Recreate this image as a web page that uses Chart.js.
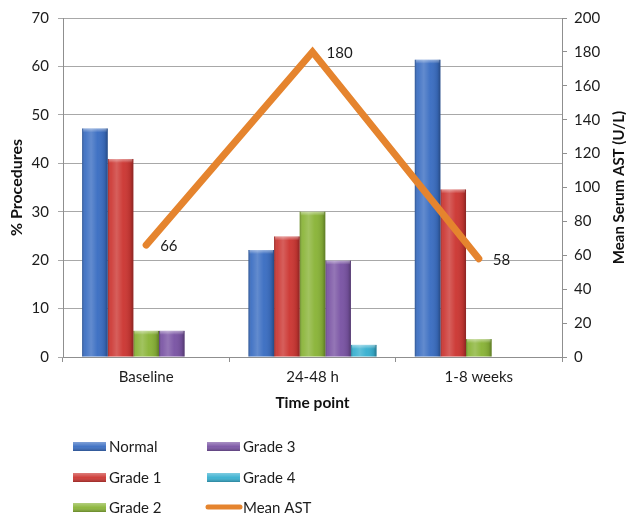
<!DOCTYPE html>
<html>
<head>
<meta charset="utf-8">
<script src="https://cdn.jsdelivr.net/npm/chart.js@4/dist/chart.umd.min.js"></script>
<style>
  html, body { margin: 0; padding: 0; background: #ffffff; }
  #wrap { width: 626px; height: 518px; position: relative; }
</style>
</head>
<body>
<div id="wrap"><canvas id="chart" width="626" height="518"></canvas></div>
<script>
// Categories and series (percent of procedures per grade, mean AST in U/L)
const timePoints = ['Baseline', '24-48 h', '1-8 weeks'];
const normal  = [47.2, 22.1, 61.4];
const grade1  = [40.9, 24.9, 34.6];
const grade2  = [5.4, 30.0, 3.7];
const grade3  = [5.4, 19.9, 0];
const grade4  = [0, 2.5, 0];
const meanAst = [66, 180, 58];

// Axis ranges
const pctMax = 70, pctStep = 10;
const astMax = 200, astStep = 20;
const astTitle = 'Mean Serum AST (U/L)';

const FONT = 'Lato, "Open Sans", "DejaVu Sans", sans-serif';
const TEXT = '#1c1c1c';
const GRID = '#a8a8a8';

// Soft 3D shading laid over each bar
function shadeBar(ctx, x, top, base, w) {
  const left = x - w / 2;
  const h = base - top;
  if (h < 1) return;
  const g = ctx.createLinearGradient(left, 0, left + w, 0);
  g.addColorStop(0, 'rgba(0,0,0,0.25)');
  g.addColorStop(0.12, 'rgba(255,255,255,0.06)');
  g.addColorStop(0.35, 'rgba(255,255,255,0.20)');
  g.addColorStop(0.6, 'rgba(255,255,255,0.03)');
  g.addColorStop(0.88, 'rgba(0,0,0,0.10)');
  g.addColorStop(1, 'rgba(0,0,0,0.32)');
  ctx.save();
  ctx.fillStyle = g;
  ctx.fillRect(left, top, w, h);
  // light bevel on the top cap
  const capH = Math.min(4, h);
  const cg = ctx.createLinearGradient(0, top, 0, top + capH);
  cg.addColorStop(0, 'rgba(255,255,255,0.45)');
  cg.addColorStop(1, 'rgba(255,255,255,0)');
  ctx.fillStyle = cg;
  ctx.fillRect(left + 1, top, w - 2, capH);
  ctx.restore();
}

const barShade = {
  id: 'barShade',
  afterDatasetDraw(chart, args) {
    const meta = args.meta;
    if (meta.type !== 'bar') return;
    const ctx = chart.ctx;
    meta.data.forEach(el => {
      const p = el.getProps(['x', 'y', 'base', 'width'], true);
      shadeBar(ctx, p.x, Math.min(p.y, p.base), Math.max(p.y, p.base), p.width);
    });
  }
};

// Value labels beside the line vertices
const lineLabels = {
  id: 'lineLabels',
  afterDatasetsDraw(chart) {
    const ctx = chart.ctx;
    chart.data.datasets.forEach((ds, di) => {
      if (ds.type !== 'line') return;
      const meta = chart.getDatasetMeta(di);
      ctx.save();
      ctx.font = '15px ' + FONT;
      ctx.fillStyle = TEXT;
      ctx.textAlign = 'left';
      ctx.textBaseline = 'middle';
      meta.data.forEach((pt, i) => {
        ctx.fillText(String(ds.data[i]), pt.x + 14, pt.y + 1);
      });
      ctx.restore();
    });
  }
};

// Right-axis title, reading bottom to top like the left one
const rightTitle = {
  id: 'rightTitle',
  afterDraw(chart) {
    const ctx = chart.ctx;
    const s = chart.scales.y1;
    ctx.save();
    ctx.translate(s.right - 7, (s.top + s.bottom) / 2);
    ctx.rotate(-Math.PI / 2);
    ctx.font = 'bold 15px ' + FONT;
    ctx.fillStyle = '#111';
    ctx.textAlign = 'center';
    ctx.textBaseline = 'middle';
    ctx.fillText(astTitle, 0, 0);
    ctx.restore();
  }
};

// Two-column legend under the plot
const gridLegend = {
  id: 'gridLegend',
  afterDraw(chart) {
    const ctx = chart.ctx;
    const colX = [73, 207];
    const rowY = [446, 477, 507];
    ctx.save();
    ctx.font = '15px ' + FONT;
    ctx.textBaseline = 'middle';
    ctx.textAlign = 'left';
    chart.data.datasets.forEach((ds, i) => {
      const col = Math.floor(i / 3), row = i % 3;
      const x = colX[col], y = rowY[row];
      if (ds.type === 'line') {
        ctx.strokeStyle = ds.borderColor;
        ctx.lineWidth = 5;
        ctx.lineCap = 'round';
        ctx.beginPath();
        ctx.moveTo(x + 1, y);
        ctx.lineTo(x + 33, y);
        ctx.stroke();
      } else {
        ctx.fillStyle = ds.backgroundColor;
        ctx.fillRect(x, y - 4, 33, 9);
        const g = ctx.createLinearGradient(0, y - 4, 0, y + 5);
        g.addColorStop(0, 'rgba(255,255,255,0.35)');
        g.addColorStop(0.5, 'rgba(255,255,255,0.05)');
        g.addColorStop(1, 'rgba(0,0,0,0.25)');
        ctx.fillStyle = g;
        ctx.fillRect(x, y - 4, 33, 9);
      }
      ctx.fillStyle = TEXT;
      ctx.fillText(ds.label, x + 36, y + 1);
    });
    ctx.restore();
  }
};

const barDefaults = { type: 'bar', yAxisID: 'y', order: 1, borderWidth: 0,
  categoryPercentage: 0.77, barPercentage: 1.0 };

new Chart(document.getElementById('chart'), {
  data: {
    labels: timePoints,
    datasets: [
      { ...barDefaults, label: 'Normal',  data: normal, backgroundColor: '#3b6ec2' },
      { ...barDefaults, label: 'Grade 1', data: grade1, backgroundColor: '#cc3733' },
      { ...barDefaults, label: 'Grade 2', data: grade2, backgroundColor: '#8ab438' },
      { ...barDefaults, label: 'Grade 3', data: grade3, backgroundColor: '#7a54a4' },
      { ...barDefaults, label: 'Grade 4', data: grade4, backgroundColor: '#38b0d0' },
      { type: 'line', label: 'Mean AST', data: meanAst, yAxisID: 'y1', order: 0,
        borderColor: '#e5842e', backgroundColor: '#e5842e', borderWidth: 7,
        borderCapStyle: 'round', borderJoinStyle: 'miter', tension: 0,
        pointRadius: 0, pointHoverRadius: 0, fill: false }
    ]
  },
  options: {
    responsive: false,
    animation: false,
    devicePixelRatio: 1,
    layout: { padding: { top: 14, bottom: 101, left: 0, right: 0 } },
    plugins: { legend: { display: false }, tooltip: { enabled: false } },
    scales: {
      x: {
        type: 'category',
        offset: true,
        grid: { drawOnChartArea: false, drawTicks: true, tickLength: 5, color: '#8f8f8f', offset: true },
        border: { display: true, color: '#8f8f8f' },
        ticks: { font: { family: FONT, size: 15 }, color: TEXT, padding: 6 },
        title: { display: true, text: 'Time point', color: '#111',
                 font: { family: FONT, size: 15.5, weight: 'bold', lineHeight: 1 },
                 padding: { top: 0, bottom: 6 } },
        afterFit: s => { s.height = 60; }
      },
      y: {
        position: 'left',
        min: 0, max: pctMax,
        ticks: { stepSize: pctStep, font: { family: FONT, size: 15 }, color: TEXT, padding: 9 },
        grid: { color: GRID, lineWidth: 1, tickLength: 5 },
        border: { display: true, color: '#8f8f8f' },
        title: { display: true, text: '% Procedures', color: '#111',
                 font: { family: FONT, size: 16, weight: 'bold', lineHeight: 1 },
                 padding: { top: 9, bottom: 0 } },
        afterFit: s => { s.width = 63; }
      },
      y1: {
        position: 'right',
        min: 0, max: astMax,
        ticks: { stepSize: astStep, font: { family: FONT, size: 15 }, color: TEXT, padding: 7 },
        grid: { drawOnChartArea: false, color: '#8f8f8f', tickLength: 5 },
        border: { display: true, color: '#8f8f8f' },
        title: { display: false },
        afterFit: s => { s.width = 64; }
      }
    }
  },
  plugins: [barShade, lineLabels, rightTitle, gridLegend]
});
</script>
</body>
</html>
